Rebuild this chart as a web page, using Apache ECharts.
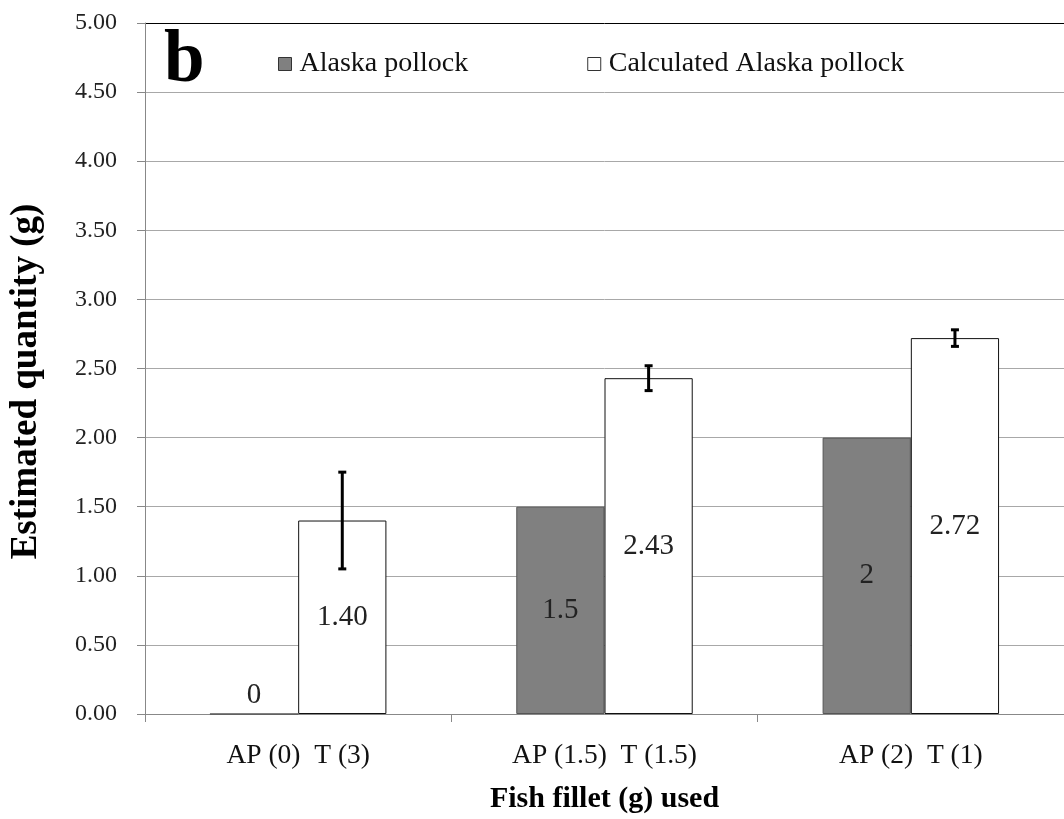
<!DOCTYPE html>
<html><head><meta charset="utf-8">
<script src="https://cdn.jsdelivr.net/npm/echarts@6/dist/echarts.min.js"></script>
<style>html,body{margin:0;padding:0;background:#fff}#c{width:1064px;height:819px}</style>
</head><body><div id="c"></div>
<script>
var categories = ['AP (0)  T (3)', 'AP (1.5)  T (1.5)', 'AP (2)  T (1)'];
var alaskaPollock = [0, 1.5, 2];
var calculatedPollock = [1.40, 2.43, 2.72];
var calculatedError = [0.35, 0.09, 0.06];
var yTicks = [0, 0.5, 1, 1.5, 2, 2.5, 3, 3.5, 4, 4.5, 5];

var FONT = '"Liberation Serif", "Times New Roman", serif';
var chart = echarts.init(document.getElementById('c'));
var barW = 0.288;
var gridColors = yTicks.map(function (v, i) { return i === yTicks.length - 1 ? '#000' : '#a8a8a8'; });

chart.setOption({
  animation: false,
  backgroundColor: '#fff',
  grid: {left: 145, top: 23, bottom: 105, right: -9, containLabel: false},
  legend: {
    left: 278, top: 50, padding: 0, itemWidth: 13, itemHeight: 13, itemGap: 119,
    textStyle: {fontFamily: FONT, fontSize: 28, color: '#111', padding: [0, 0, 0, 3]},
    data: [
      {name: 'Alaska pollock', icon: 'rect', itemStyle: {color: '#808080', borderColor: '#333', borderWidth: 1}},
      {name: 'Calculated Alaska pollock', icon: 'rect', itemStyle: {color: '#fff', borderColor: '#333', borderWidth: 1}}
    ]
  },
  graphic: [{type: 'text', left: 164, top: 26, style: {text: 'b', font: 'bold 73px ' + FONT, fill: '#000'}}],
  xAxis: {
    type: 'category', data: categories,
    axisLine: {lineStyle: {color: '#888', width: 1}},
    axisTick: {show: true, lineStyle: {color: '#888'}, length: 8},
    axisLabel: {fontFamily: FONT, fontSize: 27.5, color: '#111', margin: 28},
    name: 'Fish fillet (g) used', nameLocation: 'middle', nameGap: 70,
    nameTextStyle: {fontFamily: FONT, fontSize: 30, fontWeight: 'bold', color: '#000'}
  },
  yAxis: {
    type: 'value', min: 0, max: 5, interval: 0.5,
    axisLine: {show: true, lineStyle: {color: '#888'}},
    axisTick: {show: true, length: 8, lineStyle: {color: '#888'}},
    axisLabel: {fontFamily: FONT, fontSize: 24, color: '#222', margin: 28,
      formatter: function (v) { return v.toFixed(2); }},
    splitLine: {lineStyle: {color: gridColors, width: 1}},
    name: 'Estimated quantity (g)', nameLocation: 'middle', nameGap: 100, nameRotate: 90,
    nameTextStyle: {fontFamily: FONT, fontSize: 37, fontWeight: 'bold', color: '#000', padding: [0, 26, 0, 0]}
  },
  series: [
    {
      name: 'Alaska pollock', type: 'bar', barWidth: (barW * 100) + '%', barGap: '0%',
      itemStyle: {color: '#808080', borderColor: '#555', borderWidth: 1},
      label: {show: true, position: 'inside', fontFamily: FONT, fontSize: 29, color: '#222',
        formatter: function (p) { return String(p.value); }},
      data: alaskaPollock.map(function (v) {
        return v === 0 ? {value: v, label: {position: 'top', distance: 4}} : v;
      })
    },
    {
      name: 'Calculated Alaska pollock', type: 'bar', barWidth: (barW * 100) + '%',
      itemStyle: {color: '#fff', borderColor: '#111', borderWidth: 1},
      label: {show: true, position: 'inside', fontFamily: FONT, fontSize: 29, color: '#222',
        formatter: function (p) { return p.value.toFixed(2); }},
      data: calculatedPollock
    },
    {
      type: 'custom', name: 'err', z: 10, silent: true,
      renderItem: function (params, api) {
        var i = api.value(0);
        var m = api.value(1), e = api.value(2);
        var catW = api.size([1, 0])[0];
        var top = api.coord([i, m + e]);
        var bot = api.coord([i, m - e]);
        var x = top[0] + catW * barW / 2;
        var cap = 4;
        var st = {stroke: '#000', lineWidth: 3};
        return {type: 'group', children: [
          {type: 'line', shape: {x1: x, y1: top[1], x2: x, y2: bot[1]}, style: st},
          {type: 'line', shape: {x1: x - cap, y1: top[1], x2: x + cap, y2: top[1]}, style: st},
          {type: 'line', shape: {x1: x - cap, y1: bot[1], x2: x + cap, y2: bot[1]}, style: st}
        ]};
      },
      data: calculatedPollock.map(function (v, i) { return [i, v, calculatedError[i]]; })
    }
  ]
});
</script></body></html>
